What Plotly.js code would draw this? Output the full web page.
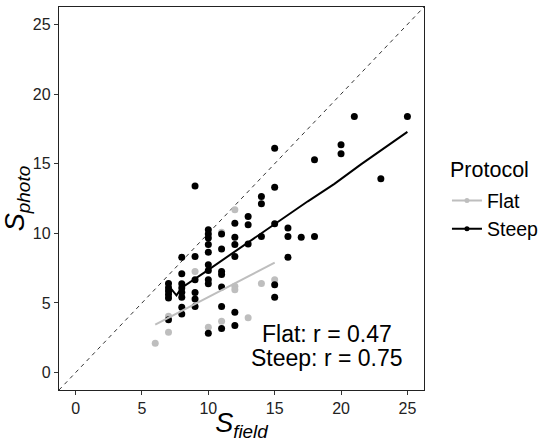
<!DOCTYPE html>
<html>
<head>
<meta charset="utf-8">
<script src="https://cdn.plot.ly/plotly-3.0.1.min.js"></script>
<style>html,body{margin:0;padding:0;background:#fff;}#chart{width:550px;height:442px;}</style>
</head>
<body>
<div id="chart"></div>
<script>
// Flat protocol observations
const flatX = [6, 7, 7, 9, 10, 11, 11, 12, 12, 12, 13, 14, 15];
const flatY = [2.1, 4.05, 2.9, 7.26, 3.26, 10.08, 3.69, 11.69, 6.2, 5.95, 3.93, 6.4, 6.66];
// Steep protocol observations
const steepX = [7, 7, 7, 7, 7, 7,
  8, 8, 8, 8, 8, 8, 8, 8,
  9, 9, 9, 9, 9, 9,
  10, 10, 10, 10, 10, 10, 10, 10, 10, 10,
  11, 11, 11, 11, 11, 11, 11,
  12, 12, 12, 12, 12, 12,
  13, 13, 13,
  14, 14, 14,
  15, 15, 15, 15, 15,
  16, 16, 16,
  17, 18, 18, 20, 20, 21, 23, 25];
const steepY = [6.4, 6.1, 5.85, 5.6, 5.35, 3.8,
  8.28, 7.09, 6.37, 6.08, 5.77, 5.41, 4.69, 4.2,
  13.4, 8.33, 6.66, 5.75, 5.29, 4.74,
  10.25, 9.96, 9.67, 9.2, 8.64, 7.74, 7.33, 6.66, 6.37, 2.82,
  9.96, 8.88, 7.25, 7.05, 6.15, 4.74, 3.16,
  10.73, 9.72, 9.2, 8.33, 4.33, 3.38,
  11.21, 10.61, 9.24,
  12.64, 12.12, 9.77,
  16.1, 13.31, 10.68, 6.3, 5.41,
  10.39, 9.77, 8.28,
  9.72, 15.28, 9.77, 16.36, 15.71, 18.39, 13.91, 18.39];
// Fitted lines
const flatFitX = [6, 15];
const flatFitY = [3.45, 7.9];
const steepFitX = [7, 7.25, 7.6, 8.0, 10, 12, 15, 17.5, 19.5, 21.5, 25];
const steepFitY = [5.35, 5.95, 5.55, 6.1, 7.38, 8.7, 10.68, 12.3, 13.55, 14.95, 17.28];
// 1:1 reference line
const refX = [-1.25, 26.25];
const refY = [-1.25, 26.25];
// Tick labels
const tickVals = [0, 5, 10, 15, 20, 25];
const tickText = ['0', '5', '10', '15', '20', '25'];
const corrLabels = ['Flat: r = 0.47', 'Steep: r = 0.75'];
const legendTitle = 'Protocol';
const legendNames = ['Flat', 'Steep'];

const GREY = '#BEBEBE';
const BLACK = '#000000';
const FONT = 'Liberation Sans, Arial, sans-serif';

const traces = [
  {x: refX, y: refY, mode: 'lines', line: {color: '#333', width: 1, dash: '4px,4px'}, showlegend: false, hoverinfo: 'skip'},
  {x: flatX, y: flatY, mode: 'markers', marker: {color: GREY, size: 7}, showlegend: false},
  {x: steepX, y: steepY, mode: 'markers', marker: {color: BLACK, size: 7}, showlegend: false},
  {x: flatFitX, y: flatFitY, mode: 'lines', line: {color: GREY, width: 2}, showlegend: false},
  {x: steepFitX, y: steepFitY, mode: 'lines', line: {color: BLACK, width: 2}, showlegend: false},
  {x: [null], y: [null], mode: 'lines+markers', name: legendNames[0], line: {color: GREY, width: 2}, marker: {color: GREY, size: 5}},
  {x: [null], y: [null], mode: 'lines+markers', name: legendNames[1], line: {color: BLACK, width: 2}, marker: {color: BLACK, size: 5}}
];

const axisCommon = {
  range: [-1.25, 26.25],
  tickmode: 'array', tickvals: tickVals, ticktext: tickText,
  showgrid: false, zeroline: false,
  showline: true, mirror: true, linecolor: '#222', linewidth: 1.2,
  ticks: 'outside', ticklen: 4, tickcolor: '#333', tickwidth: 1,
  tickfont: {family: FONT, size: 16, color: '#222'}
};

const layout = {
  width: 550, height: 442,
  margin: {l: 59, r: 125, t: 7, b: 52},
  paper_bgcolor: '#fff', plot_bgcolor: '#fff',
  font: {family: FONT, color: '#000'},
  xaxis: Object.assign({}, axisCommon, {
    title: {text: '<i>S<sub>field</sub></i>', font: {size: 27, color: '#000'}, standoff: 4}
  }),
  yaxis: Object.assign({}, axisCommon, {
    title: {text: '<i>S<sub>photo</sub></i>', font: {size: 27, color: '#000'}, standoff: 6}
  }),
  legend: {
    x: 1.06, y: 0.545, xanchor: 'left', yanchor: 'top',
    font: {size: 19.5, color: '#000'},
    itemwidth: 30, tracegroupgap: 0,
    bgcolor: 'rgba(0,0,0,0)'
  },
  annotations: [
    {x: 1.0656, y: 0.574, xref: 'paper', yref: 'paper', text: legendTitle, showarrow: false, xanchor: 'left', yanchor: 'middle', font: {size: 21.5, color: '#000'}},
    {x: 18.97, y: 2.8, xref: 'x', yref: 'y', text: corrLabels[0], showarrow: false, xanchor: 'center', yanchor: 'middle', font: {size: 23, color: '#000'}},
    {x: 18.97, y: 1.08, xref: 'x', yref: 'y', text: corrLabels[1], showarrow: false, xanchor: 'center', yanchor: 'middle', font: {size: 23, color: '#000'}}
  ]
};

Plotly.newPlot('chart', traces, layout, {displayModeBar: false, staticPlot: true});
</script>
</body>
</html>
